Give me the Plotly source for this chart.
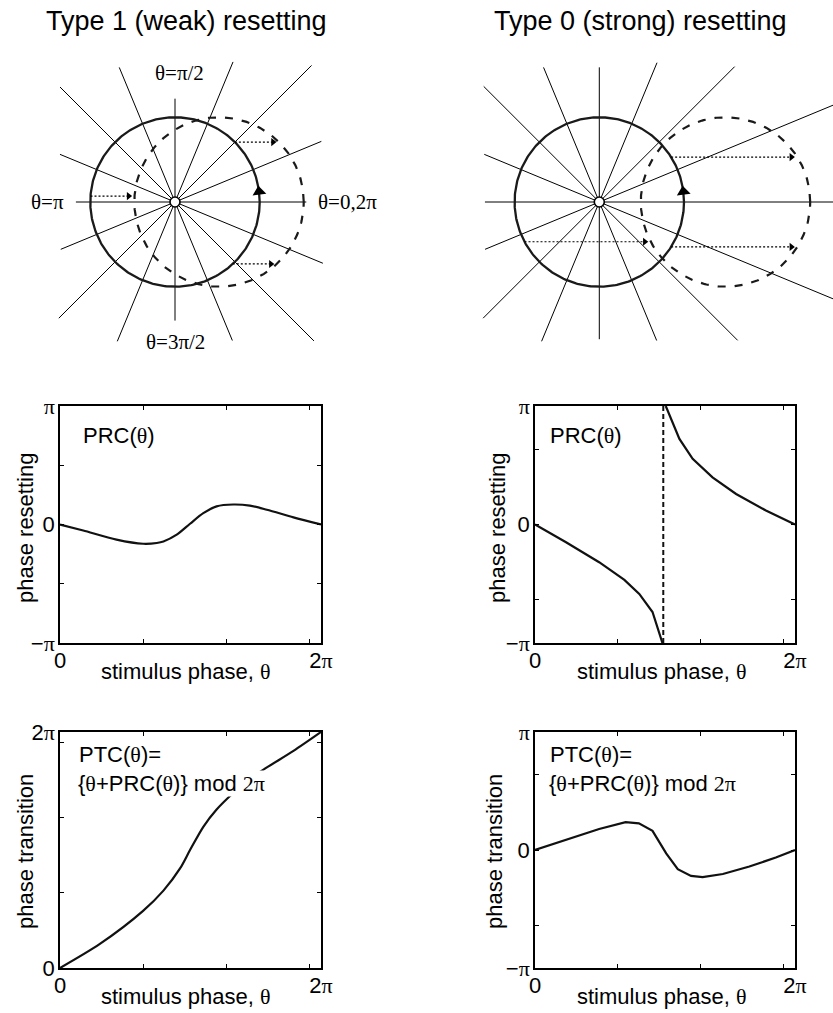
import numpy as np
import plotly.graph_objects as go

W, H = 833, 1013
PI = np.pi

# ---------------- data ----------------
ray_angles_deg = [0, 22.5, 45, 67.5, 90, 112.5, 135, 157.5, 180, 202.5, 225, 247.5, 270, 292.5, 315, 337.5]
ray_len_type1 = [1.55, 1.87, 2.28, 1.79, 1.22, 1.72, 1.92, 1.47, 1.17, 1.46, 1.94, 1.78, 1.40, 1.77, 2.32, 1.89]
ray_len_type0 = [3.6, 3.6, 2.26, 1.78, 1.59, 1.72, 1.93, 1.47, 1.35, 1.46, 1.94, 1.78, 1.62, 1.77, 2.31, 3.6]
shift_type1 = 0.52
shift_type0 = 1.49
arrow_angles_type1 = [45, 176, -47]
arrow_angles_type0 = [32, 208, -32]
arrow_len_type1 = 0.45
arrow_len_type0 = 1.42
head_angle = 7

theta_prc1 = [0, 0.56, 1.36, 2.0, 2.33, 2.49, 2.81, 3.13, 3.45, 3.77, 4.17, 4.57, 4.98, 5.62, 2 * PI]
prc1 = [0, -0.16, -0.40, -0.51, -0.49, -0.45, -0.27, 0.02, 0.30, 0.48, 0.53, 0.50, 0.39, 0.19, 0]

theta_ptc1 = [0, 0.96, 2.0, 2.49, 2.89, 3.13, 3.45, 3.77, 4.17, 4.57, 4.98, 5.62, 2 * PI]
ptc1 = [0, 0.64, 1.52, 2.06, 2.65, 3.14, 3.76, 4.22, 4.66, 5.04, 5.34, 5.78, 2 * PI]

theta_prc0 = [0, 0.75, 1.55, 2.16, 2.52, 2.84, 3.08, None, 3.16, 3.49, 3.81, 4.29, 4.86, 5.58, 2 * PI]
prc0 = [0, -0.47, -1.0, -1.47, -1.84, -2.32, -PI, None, PI, 2.27, 1.74, 1.25, 0.81, 0.37, 0]
theta_jump0 = 3.10

theta_ptc0 = [0, 0.75, 1.55, 2.19, 2.51, 2.84, 3.17, 3.45, 3.77, 4.05, 4.54, 5.18, 5.82, 2 * PI]
ptc0 = [0, 0.27, 0.56, 0.74, 0.71, 0.51, -0.09, -0.51, -0.69, -0.72, -0.64, -0.44, -0.20, 0]

SANS = "Liberation Sans"
SERIF = "Liberation Serif"


def srf(s):
    return "<span style=\"font-family:'Liberation Serif'\">" + s + "</span>"


x_tick_vals = [0, 2, 4, 6, 2 * PI]
x_tick_text = ["0", "", "", "", "2" + srf("π")]
y_prc1_vals = [-PI, -PI / 2, 0, PI / 2, PI]
y_sym_text = ["−" + srf("π"), "", "0", "", srf("π")]
y_prc0_vals = [-PI, -2, 0, 2, PI]
y_ptc1_vals = [0, 2, 4, 6, 2 * PI]
y_ptc1_text = ["0", "", "", "", "2" + srf("π")]
y_ptc0_vals = [-PI, -2, 0, 2, PI]

# ---------------- figure ----------------
fig = go.Figure()
R = 84.7


def sx(n):
    return "" if n == 1 else str(n)


def diag_axes(n, px_l, px_r, px_t, px_b, cx, cy):
    common = dict(visible=False, showgrid=False, zeroline=False, fixedrange=True)
    fig.update_layout({
        "xaxis" + sx(n): dict(domain=[px_l / W, px_r / W], range=[(px_l - cx) / R, (px_r - cx) / R],
                              anchor="y" + sx(n), **common),
        "yaxis" + sx(n): dict(domain=[1 - px_b / H, 1 - px_t / H], range=[(cy - px_b) / R, (cy - px_t) / R],
                              anchor="x" + sx(n), **common),
    })


def diagram(n, ray_len, shift, arrow_angles, arrow_len):
    xa, ya = "x" + sx(n), "y" + sx(n)
    base = dict(xaxis=xa, yaxis=ya, hoverinfo="skip", showlegend=False)
    rx, ry = [], []
    for ang, L in zip(ray_angles_deg, ray_len):
        a = np.deg2rad(ang)
        rx += [0, L * np.cos(a), None]
        ry += [0, L * np.sin(a), None]
    fig.add_trace(go.Scatter(x=rx, y=ry, mode="lines", line=dict(color="black", width=1), **base))
    t = np.linspace(0, 2 * PI, 361)
    fig.add_trace(go.Scatter(x=np.cos(t), y=np.sin(t), mode="lines",
                             line=dict(color="#1a1a1a", width=2.3), **base))
    fig.add_trace(go.Scatter(x=shift + np.cos(t), y=np.sin(t), mode="lines",
                             line=dict(color="#1a1a1a", width=2.2, dash="8px,9px"), **base))
    for ang in arrow_angles:
        a = np.deg2rad(ang)
        x0, y0 = np.cos(a), np.sin(a)
        fig.add_trace(go.Scatter(x=[x0, x0 + arrow_len], y=[y0, y0], mode="lines",
                                 line=dict(color="black", width=1.2, dash="2px,2px"), **base))
        fig.add_trace(go.Scatter(x=[x0 + arrow_len], y=[y0], mode="markers",
                                 marker=dict(symbol="triangle-right", size=7, color="black"), **base))
    fig.add_trace(go.Scatter(x=[0], y=[0], mode="markers",
                             marker=dict(symbol="circle", size=10, color="white",
                                         line=dict(color="black", width=1.6)), **base))
    a = np.deg2rad(head_angle)
    fig.add_trace(go.Scatter(x=[np.cos(a)], y=[np.sin(a)], mode="markers",
                             marker=dict(symbol="triangle-up", size=12, color="black", angle=-head_angle),
                             **base))


diag_axes(1, 0, 416, 40, 360, 175, 202)
diag_axes(2, 416, 833, 40, 360, 599.3, 202)
diagram(1, ray_len_type1, shift_type1, arrow_angles_type1, arrow_len_type1)
diagram(2, ray_len_type0, shift_type0, arrow_angles_type0, arrow_len_type0)

axis_common = dict(showline=True, linecolor="black", linewidth=1.6, mirror="allticks", ticks="inside",
                   ticklen=4, tickwidth=1, tickcolor="black", showgrid=False, zeroline=False,
                   tickfont=dict(family=SANS, size=22, color="black"), fixedrange=True,
                   automargin=False)


def plot_axes(n, px_l, px_r, px_t, px_b, yrange, yvals, ytext):
    fig.update_layout({
        "xaxis" + sx(n): dict(domain=[px_l / W, px_r / W], range=[0, 2 * PI], anchor="y" + sx(n),
                              tickmode="array", tickvals=x_tick_vals, ticktext=x_tick_text,
                              ticklabelstandoff=-3, **axis_common),
        "yaxis" + sx(n): dict(domain=[1 - px_b / H, 1 - px_t / H], range=yrange, anchor="x" + sx(n),
                              tickmode="array", tickvals=yvals, ticktext=ytext,
                              ticklabelstandoff=-1, **axis_common),
    })


plot_axes(3, 60, 321, 406, 643, [-PI, PI], y_prc1_vals, y_sym_text)
plot_axes(4, 535, 795, 406, 643, [-PI, PI], y_prc0_vals, y_sym_text)
plot_axes(5, 60, 321, 732, 968, [0, 2 * PI], y_ptc1_vals, y_ptc1_text)
plot_axes(6, 535, 795, 732, 968, [-PI, PI], y_ptc0_vals, y_sym_text)

curve_line = dict(color="#111111", width=2.2)
fig.add_trace(go.Scatter(x=theta_prc1, y=prc1, mode="lines", line=dict(shape="spline", smoothing=0.8, **curve_line),
                         xaxis="x3", yaxis="y3", showlegend=False, hoverinfo="skip"))
fig.add_trace(go.Scatter(x=theta_prc0, y=prc0, mode="lines", line=curve_line, connectgaps=False,
                         xaxis="x4", yaxis="y4", showlegend=False, hoverinfo="skip"))
fig.add_trace(go.Scatter(x=[theta_jump0, theta_jump0], y=[-PI, PI], mode="lines",
                         line=dict(color="#111111", width=2, dash="5px,3px"),
                         xaxis="x4", yaxis="y4", showlegend=False, hoverinfo="skip"))
fig.add_trace(go.Scatter(x=theta_ptc1, y=ptc1, mode="lines", line=dict(shape="spline", smoothing=0.8, **curve_line),
                         xaxis="x5", yaxis="y5", showlegend=False, hoverinfo="skip"))
fig.add_trace(go.Scatter(x=theta_ptc0, y=ptc0, mode="lines", line=curve_line,
                         xaxis="x6", yaxis="y6", showlegend=False, hoverinfo="skip"))

# ---------------- text ----------------
ann = []


def text(px, py, s, size=22, family=SANS, xanchor="center", yanchor="middle", textangle=0, bg=None):
    d = dict(x=px / W, y=1 - py / H, xref="paper", yref="paper", text=s, showarrow=False,
             xanchor=xanchor, yanchor=yanchor, textangle=textangle,
             font=dict(family=family, size=size, color="black"))
    if bg:
        d.update(bgcolor=bg, borderpad=0)
    ann.append(d)


text(186, 21, "Type 1 (weak) resetting", size=27)
text(640, 21, "Type 0 (strong) resetting", size=27)

text(179, 73, "θ=π/2", size=21, family=SERIF)
text(66, 202, "θ=π", size=21, family=SERIF, xanchor="right")
text(316, 202, "θ=0,2π", size=21, family=SERIF, xanchor="left")
text(175, 342, "θ=3π/2", size=21, family=SERIF)

th = srf("θ")
text(81, 435, "PRC(" + th + ")", xanchor="left")
text(548, 435, "PRC(" + th + ")", xanchor="left")
for xl in (77, 548):
    text(xl, 754, "PTC(" + th + ")=", xanchor="left")
    text(xl, 783, "{" + th + "+PRC(" + th + ")} mod " + srf("2π"), xanchor="left", bg="white")

for cx, py in ((186, 671), (662, 671), (186, 996), (662, 996)):
    text(cx, py, "stimulus phase, " + th, size=22)
text(25, 528, "phase resetting", size=22, textangle=-90)
text(497, 528, "phase resetting", size=22, textangle=-90)
text(25, 852, "phase transition", size=22, textangle=-90)
text(494, 852, "phase transition", size=22, textangle=-90)

fig.update_layout(
    width=W, height=H, margin=dict(l=0, r=0, t=0, b=0),
    paper_bgcolor="white", plot_bgcolor="rgba(0,0,0,0)",
    font=dict(family=SANS, color="black"),
    annotations=ann, showlegend=False,
)

fig.write_html("out.html", config={"displayModeBar": False},
               post_script="document.body.style.margin='0';document.body.style.overflow='hidden';")
